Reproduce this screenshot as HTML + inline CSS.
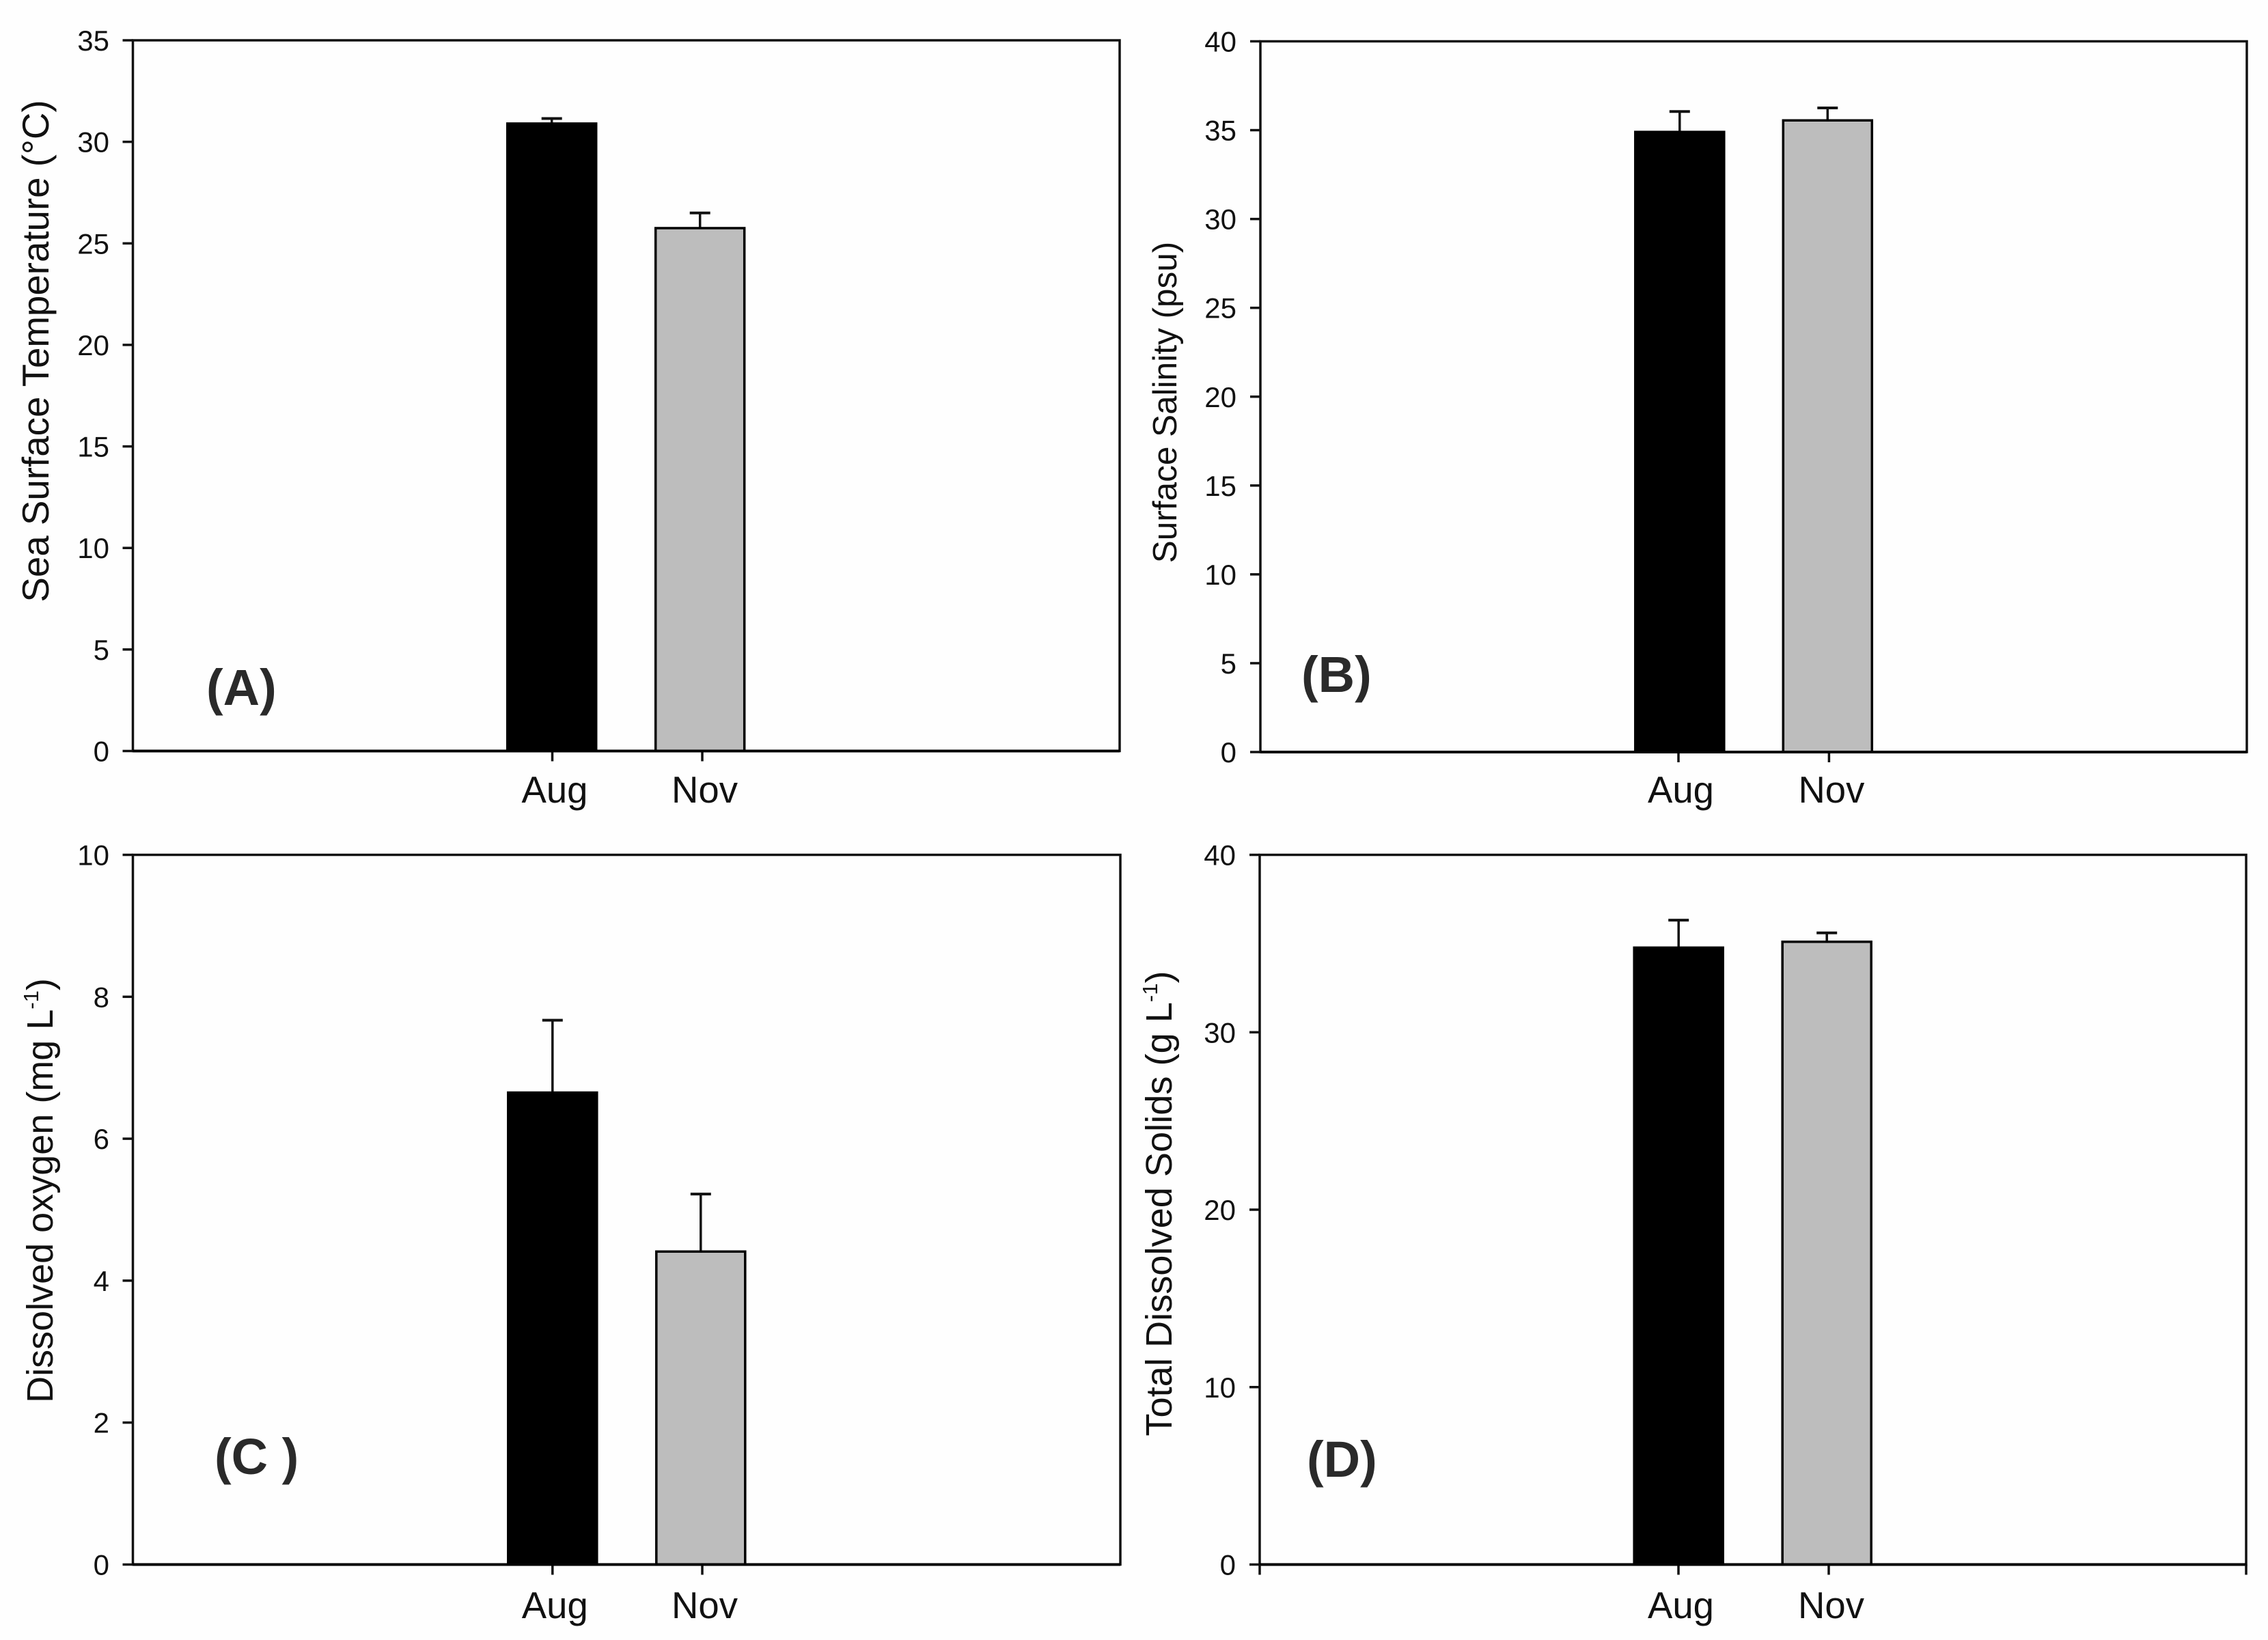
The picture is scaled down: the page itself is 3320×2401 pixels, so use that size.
<!DOCTYPE html>
<html lang="en">
<head>
<meta charset="utf-8">
<title>Seasonal water quality bar charts</title>
<style>
html,body{margin:0;padding:0;background:#fefefe;}
svg{display:block;font-family:"Liberation Sans",Arial,sans-serif;}
.axis-title{font-size:54px;fill:#111;text-anchor:middle;}
.panel-label{font-size:74px;font-weight:bold;fill:#2a2a2a;}
.tick-y{font-size:42px;fill:#111;text-anchor:end;}
.tick-x{font-size:54.5px;fill:#111;text-anchor:middle;}
</style>
</head>
<body>
<svg id="figure" width="3320" height="2401" viewBox="0 0 3320 2401" xmlns="http://www.w3.org/2000/svg">
  <rect x="0" y="0" width="3320" height="2401" fill="#fefefe"/>

  <g id="panel-a">
    <text class="axis-title" style="font-size:54.7px" transform="translate(71 514) rotate(-90)">Sea Surface Temperature (°C)</text>
    <text class="panel-label" x="302" y="1032">(A)</text>
  </g>

  <g id="panel-b">
    <text class="axis-title" style="font-size:49.5px" transform="translate(1722 589) rotate(-90)">Surface Salinity (psu)</text>
    <text class="panel-label" x="1905" y="1013">(B)</text>
  </g>

  <g id="panel-c">
    <text class="axis-title" transform="translate(77 1743) rotate(-90)">Dissolved oxygen (mg L<tspan font-size="31" dy="-21">-1</tspan><tspan dy="21">)</tspan></text>
    <text class="panel-label" x="314" y="2158">(C )</text>
  </g>

  <g id="panel-d">
    <text class="axis-title" style="font-size:54.2px" transform="translate(1715 1762) rotate(-90)">Total Dissolved Solids (g L<tspan font-size="31" dy="-21">-1</tspan><tspan dy="21">)</tspan></text>
    <text class="panel-label" x="1913" y="2162">(D)</text>
  </g>
</svg>

<script>
// Chart data
const categories = ['Aug', 'Nov'];
const barFills = ['#000000', '#bdbdbd'];

const temperatureMeans = [30.9, 25.75];
const temperatureErrors = [0.25, 0.75];
const temperatureTicks = [0, 5, 10, 15, 20, 25, 30, 35];

const salinityMeans = [34.9, 35.55];
const salinityErrors = [1.15, 0.7];
const salinityTicks = [0, 5, 10, 15, 20, 25, 30, 35, 40];

const oxygenMeans = [6.65, 4.41];
const oxygenErrors = [1.02, 0.81];
const oxygenTicks = [0, 2, 4, 6, 8, 10];

const solidsMeans = [34.77, 35.1];
const solidsErrors = [1.55, 0.5];
const solidsTicks = [0, 10, 20, 30, 40];

const SVG_NS = 'http://www.w3.org/2000/svg';
const BAR_WIDTH = 130;
const CAP_HALF = 15;
const TICK_LEN = 15;

function add(parent, tag, attrs) {
  const node = document.createElementNS(SVG_NS, tag);
  for (const key in attrs) node.setAttribute(key, attrs[key]);
  parent.appendChild(node);
  return node;
}

function drawPanel(p) {
  const root = document.getElementById(p.id);
  const maxTick = p.ticks[p.ticks.length - 1];
  const yScale = function (v) { return p.bottom - (v / maxTick) * (p.bottom - p.top); };
  const barCenter = function (i) { return p.barStart + i * p.barStep; };
  const tickCenter = function (i) { return p.tickStart + i * p.tickStep; };

  const frame = add(root, 'rect', { x: p.left, y: p.top, width: p.right - p.left, height: p.bottom - p.top, fill: 'none', stroke: '#111', 'stroke-width': 3.5 });
  
  

  categories.forEach(function (cat, i) {
    const cx = barCenter(i);
    const top = yScale(p.means[i]);
    const capY = yScale(p.means[i] + p.errors[i]);

    const stem = add(root, 'line', { x1: cx, x2: cx, y1: top, y2: capY, stroke: '#111', 'stroke-width': 3.5 });
    
    

    const cap = add(root, 'line', { x1: cx - CAP_HALF, x2: cx + CAP_HALF, y1: capY, y2: capY, stroke: '#111', 'stroke-width': 4 });
    
    

    const bar = add(root, 'rect', { x: cx - BAR_WIDTH / 2, y: top, width: BAR_WIDTH, height: yScale(0) - top, fill: barFills[i], stroke: '#000', 'stroke-width': 3.5 });
    
    

    const tx = tickCenter(i);
    const tick = add(root, 'line', { x1: tx, x2: tx, y1: p.bottom, y2: p.bottom + TICK_LEN, stroke: '#111', 'stroke-width': 3.5 });
    
    

    const label = add(root, 'text', { x: tx + 3.5, y: p.labelBaseline, class: 'tick-x' });
    label.textContent = cat;
    
    
  });

  p.ticks.forEach(function (value) {
    const y = yScale(value);
    const tick = add(root, 'line', { x1: p.left - TICK_LEN, x2: p.left, y1: y, y2: y, stroke: '#111', 'stroke-width': 3.5 });
    
    

    const label = add(root, 'text', { x: p.tickLabelRight, y: y + 15, class: 'tick-y' });
    label.textContent = String(value);
    
    
  });

  const baseline = add(root, 'line', { x1: p.left, x2: p.right, y1: p.bottom, y2: p.bottom, stroke: '#000', 'stroke-width': 4 });
  
  

  if (p.endTicks) {
    [p.left, p.right].forEach(function (x) {
      const endTick = add(root, 'line', { x1: x, x2: x, y1: p.bottom, y2: p.bottom + TICK_LEN, stroke: '#111', 'stroke-width': 3.5 });
      
      
    });
  }
}

drawPanel({ id: 'panel-a', means: temperatureMeans, errors: temperatureErrors, ticks: temperatureTicks,
  left: 194.5, right: 1639, top: 59, bottom: 1099.5, barStart: 807.7, barStep: 217, tickStart: 808.5, tickStep: 219.5,
  tickLabelRight: 160, labelBaseline: 1175, endTicks: false });
drawPanel({ id: 'panel-b', means: salinityMeans, errors: salinityErrors, ticks: salinityTicks,
  left: 1845, right: 3289, top: 60.5, bottom: 1101, barStart: 2458.8, barStep: 216.5, tickStart: 2457, tickStep: 220.4,
  tickLabelRight: 1810, labelBaseline: 1175, endTicks: false });
drawPanel({ id: 'panel-c', means: oxygenMeans, errors: oxygenErrors, ticks: oxygenTicks,
  left: 194.5, right: 1640, top: 1251.5, bottom: 2290.5, barStart: 808.8, barStep: 217, tickStart: 808.8, tickStep: 219.2,
  tickLabelRight: 160, labelBaseline: 2369, endTicks: false });
drawPanel({ id: 'panel-d', means: solidsMeans, errors: solidsErrors, ticks: solidsTicks,
  left: 1844, right: 3288, top: 1251.5, bottom: 2290.5, barStart: 2457.2, barStep: 217, tickStart: 2457, tickStep: 220,
  tickLabelRight: 1809, labelBaseline: 2369, endTicks: true });
</script>
</body>
</html>
